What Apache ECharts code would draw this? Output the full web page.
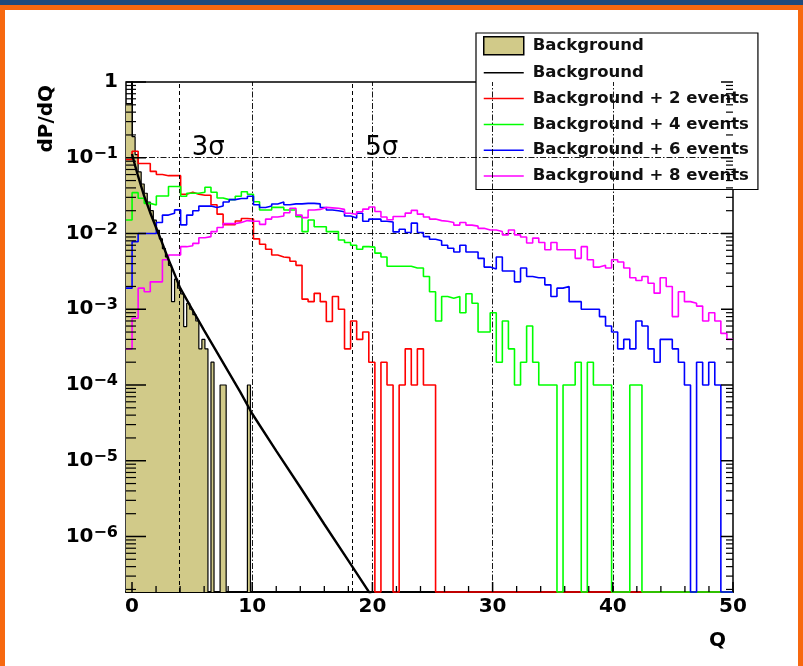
<!DOCTYPE html>
<html>
<head>
<meta charset="utf-8">
<script src="https://cdn.jsdelivr.net/npm/echarts@6/dist/echarts.min.js"></script>
<style>
  html, body { margin: 0; padding: 0; background: #fff; }
  #chart { position: absolute; left: 0; top: 0; width: 803px; height: 666px; }
  #frame { position: absolute; left: 0; top: 0; width: 803px; height: 666px; box-sizing: border-box;
           border-left: 5px solid #f7680f; border-right: 5px solid #f7680f; border-top: 10px solid #f7680f;
           pointer-events: none; }
  #topbar { position: absolute; left: 0; top: 0; width: 803px; height: 5px; background: #1f4a7c; pointer-events: none; }
</style>
</head>
<body>
<div id="chart"></div>
<div id="frame"></div>
<div id="topbar"></div>
<script>
// Q range shared by all histograms; the bin count follows from each array's length
const Q_MIN = -0.5;
const Q_MAX = 50;
const Y_FLOOR = 1.85e-7;
const Y_TOP = 1;

// dP/dQ, background only (filled histogram, 200 bins)
const bgHist = [
  0.52, 0.52, 0.19, 0.11, 0.065, 0.045, 0.034, 0.026, 0.020, 0.015,
  0.011, 0.0085, 0.0063, 0.0049, 0.0038, 0.00126, 0.0025, 0.0019, 0.0016, 0.00059,
  0.0012, 0.0010, 0.00085, 0.0007, 0.0003, 0.0004, 0.0003, 0, 0.0002, 0,
  0, 0.0001, 0.0001, 0, 0, 0, 0, 0, 0, 0,
  0.0001, 0, 0, 0, 0, 0, 0, 0, 0, 0,
  0, 0, 0, 0, 0, 0, 0, 0, 0, 0,
  0, 0, 0, 0, 0, 0, 0, 0, 0, 0,
  0, 0, 0, 0, 0, 0, 0, 0, 0, 0,
  0, 0, 0, 0, 0, 0, 0, 0, 0, 0,
  0, 0, 0, 0, 0, 0, 0, 0, 0, 0,
  0, 0, 0, 0, 0, 0, 0, 0, 0, 0,
  0, 0, 0, 0, 0, 0, 0, 0, 0, 0,
  0, 0, 0, 0, 0, 0, 0, 0, 0, 0,
  0, 0, 0, 0, 0, 0, 0, 0, 0, 0,
  0, 0, 0, 0, 0, 0, 0, 0, 0, 0,
  0, 0, 0, 0, 0, 0, 0, 0, 0, 0,
  0, 0, 0, 0, 0, 0, 0, 0, 0, 0,
  0, 0, 0, 0, 0, 0, 0, 0, 0, 0,
  0, 0, 0, 0, 0, 0, 0, 0, 0, 0,
  0, 0, 0, 0, 0, 0, 0, 0, 0, 0
];

// Background + 2 signal events (100 bins)
const bgPlus2 = [
  0.095, 0.122, 0.084, 0.084, 0.066, 0.060, 0.058, 0.058, 0.058, 0.033,
  0.035, 0.033, 0.032, 0.032, 0.024, 0.018, 0.0131, 0.0131, 0.0146, 0.0158,
  0.0155, 0.0085, 0.0072, 0.0062, 0.0052, 0.0049, 0.0048, 0.0043, 0.0038, 0.00136,
  0.00126, 0.00162, 0.00126, 0.00069, 0.00147, 0.0010, 0.0003, 0.0007, 0.0004, 0.0005,
  0.0002, 0, 0.0002, 0.0001, 0, 0.0001, 0.0003, 0.0001, 0.0003, 0.0001,
  0.0001, 0, 0, 0, 0, 0, 0, 0, 0, 0,
  0, 0, 0, 0, 0, 0, 0, 0, 0, 0,
  0, 0, 0, 0, 0, 0, 0, 0, 0, 0,
  0, 0, 0, 0, 0, 0, 0, 0, 0, 0,
  0, 0, 0, 0, 0, 0, 0, 0, 0, 0
];

// Background + 4 signal events (100 bins)
const bgPlus4 = [
  0.0151, 0.0346, 0.0292, 0.025, 0.0238, 0.0313, 0.0313, 0.0417, 0.0417, 0.031,
  0.034, 0.034, 0.035, 0.0408, 0.035, 0.0294, 0.028, 0.028, 0.031, 0.0356,
  0.033, 0.0263, 0.0204, 0.0204, 0.0221, 0.0221, 0.0204, 0.0204, 0.0167, 0.0106,
  0.0151, 0.0123, 0.0123, 0.0106, 0.0106, 0.0082, 0.0076, 0.0070, 0.0062, 0.0067,
  0.0066, 0.0055, 0.0049, 0.0037, 0.0037, 0.0037, 0.0037, 0.0035, 0.0035, 0.0027,
  0.0017, 0.0007, 0.00147, 0.0014, 0.00147, 0.0009, 0.0016, 0.0012, 0.0005, 0.0005,
  0.0009, 0.0002, 0.0007, 0.0003, 0.0001, 0.0002, 0.0006, 0.0002, 0.0001, 0.0001,
  0.0001, 0, 0.0001, 0.0001, 0.0002, 0, 0.0002, 0.0001, 0.0001, 0.0001,
  0, 0, 0, 0.0001, 0.0001, 0, 0, 0, 0, 0,
  0, 0, 0, 0, 0, 0, 0, 0, 0, 0
];

// Background + 6 signal events (100 bins)
const bgPlus6 = [
  0.0019, 0.0078, 0.0100, 0.0100, 0.0100, 0.014, 0.0175, 0.0185, 0.0205, 0.0130,
  0.0175, 0.020, 0.023, 0.023, 0.022, 0.023, 0.026, 0.028, 0.029, 0.029,
  0.031, 0.024, 0.022, 0.023, 0.0245, 0.026, 0.024, 0.0246, 0.0246, 0.025,
  0.025, 0.0246, 0.022, 0.0204, 0.020, 0.0194, 0.017, 0.016, 0.0185, 0.0145,
  0.0155, 0.0155, 0.0145, 0.0142, 0.0105, 0.0114, 0.0103, 0.0137, 0.0103, 0.0091,
  0.0084, 0.0080, 0.0070, 0.0064, 0.0057, 0.0070, 0.0057, 0.0057, 0.0047, 0.0036,
  0.0034, 0.0049, 0.0032, 0.0032, 0.0023, 0.0035, 0.0027, 0.0026, 0.0026, 0.0021,
  0.00147, 0.0019, 0.0020, 0.00126, 0.00126, 0.0010, 0.0010, 0.0010, 0.0008, 0.0006,
  0.0005, 0.0003, 0.0004, 0.0003, 0.0007, 0.0006, 0.0003, 0.0002, 0.0004, 0.0004,
  0.0003, 0.0002, 0.0001, 0, 0.0002, 0.0001, 0.0002, 0.0001, 0, 0
];

// Background + 8 signal events (100 bins)
const bgPlus8 = [
  0.0003, 0.00076, 0.0019, 0.0017, 0.0023, 0.0023, 0.0045, 0.0052, 0.0052, 0.0067,
  0.0069, 0.0074, 0.0088, 0.0091, 0.0106, 0.012, 0.0135, 0.0135, 0.014, 0.0148,
  0.0145, 0.0145, 0.0132, 0.0155, 0.0165, 0.017, 0.0188, 0.0215, 0.0175, 0.0162,
  0.0204, 0.0208, 0.0221, 0.0218, 0.0215, 0.0208, 0.0185, 0.0178, 0.0194, 0.021,
  0.0224, 0.0195, 0.0165, 0.0152, 0.0168, 0.0168, 0.0186, 0.0202, 0.018, 0.0165,
  0.0155, 0.0148, 0.0145, 0.014, 0.0129, 0.014, 0.0129, 0.0125, 0.0117, 0.0111,
  0.0111, 0.0106, 0.0096, 0.0111, 0.0096, 0.009, 0.0075, 0.0087, 0.0076, 0.0061,
  0.0076, 0.0061, 0.0061, 0.0061, 0.0047, 0.0067, 0.0045, 0.0036, 0.0038, 0.0035,
  0.0045, 0.0042, 0.0035, 0.0026, 0.0024, 0.0027, 0.0022, 0.00163, 0.0026, 0.0020,
  0.0008, 0.0017, 0.00126, 0.0012, 0.0011, 0.0007, 0.0009, 0.0007, 0.00048, 0.0004
];

// Smooth background curve, sampled in Q
const fitQ = [0.0, 0.25, 0.5, 1.0, 1.5, 2.0, 2.5, 3.0, 3.5, 4.0, 5.0, 6.0, 7.0, 8.0, 9.0, 10.0, 12.0, 14.0, 16.0, 18.0, 20.0];
const fitP = [0.1122, 0.0794, 0.0575, 0.0316, 0.0191, 0.0120, 0.00759, 0.00468, 0.00302, 0.00191,
              0.00100, 5.25e-4, 2.82e-4, 1.51e-4, 8.13e-5, 4.17e-5, 1.35e-5, 4.47e-6, 1.45e-6, 4.79e-7, 1.58e-7];

// Significance thresholds in Q
const sigmaQ = [3.89, 18.33];
const sigmaText = ['3σ', '5σ'];
const sigmaLabelP = 0.134;

// Axis ticks and grid
const xLabelValues = [0, 10, 20, 30, 40, 50];
const xMinorValues = [2, 4, 6, 8, 12, 14, 16, 18, 22, 24, 26, 28, 32, 34, 36, 38, 42, 44, 46, 48];
const xGridValues = [10, 20, 30, 40];
const yDecades = [1e-7, 1e-6, 1e-5, 1e-4, 1e-3, 1e-2, 1e-1, 1];
const yMinorMultipliers = [2, 3, 4, 5, 6, 7, 8, 9];
const yGridValues = [1e-1, 1e-2, 1e-3, 1e-4, 1e-5, 1e-6];

const legendText = {
  bgHist: 'Background',
  bgFit: 'Background',
  bgPlus2: 'Background + 2 events',
  bgPlus4: 'Background + 4 events',
  bgPlus6: 'Background + 6 events',
  bgPlus8: 'Background + 8 events'
};

const KHAKI = '#d1ca89';
const FONT = 'DejaVu Sans';

// histogram contents -> step outline points (empty bins drop to the axis floor)
function histPoints(vals) {
  const w = (Q_MAX - Q_MIN) / vals.length;
  const pts = vals.map((v, i) => [Q_MIN + i * w, v > 0 ? v : Y_FLOOR]);
  const last = vals[vals.length - 1];
  pts.push([Q_MAX, last > 0 ? last : Y_FLOOR]);
  return pts;
}

const yMajorTicks = yDecades.filter(v => v >= Y_FLOOR && v <= Y_TOP);
const yMinorTicks = [];
yDecades.forEach(d => yMinorMultipliers.forEach(m => {
  const v = d * m;
  if (v > Y_FLOOR && v < Y_TOP) yMinorTicks.push(v);
}));

function histSeries(name, vals, color, z) {
  return {
    name: name, type: 'line', step: 'end', data: histPoints(vals),
    showSymbol: false, symbol: 'none', clip: false, z: z, silent: true,
    lineStyle: { color: color, width: 1.6 },
    itemStyle: { color: color }
  };
}

function tickSeries(data, render, z) {
  return { type: 'custom', coordinateSystem: 'cartesian2d', silent: true, z: z, clip: false,
           data: data, renderItem: render };
}

const chart = echarts.init(document.getElementById('chart'), null, { renderer: 'canvas' });

const option = {
  animation: false,
  backgroundColor: 'transparent',
  grid: { left: 126, right: 70, top: 82, bottom: 74, show: true, borderColor: '#000', borderWidth: 1.5,
          backgroundColor: 'transparent' },
  legend: {
    orient: 'vertical', left: 476, top: 33,
    backgroundColor: '#fff', borderColor: '#000', borderWidth: 1.2,
    padding: [3, 9, 5, 7],
    itemWidth: 40, itemHeight: 18, itemGap: 8.8,
    selectedMode: false,
    itemStyle: { opacity: 0, borderWidth: 0 },
    lineStyle: { width: 1.5 },
    formatter: n => legendText[n],
    textStyle: { fontFamily: FONT, fontWeight: 'bold', fontSize: 16.5, color: '#111', padding: [0, 0, 0, 4] },
    data: [
      { name: 'bgHist', icon: 'rect', itemStyle: { color: KHAKI, borderColor: '#000', borderWidth: 1.5, opacity: 1 } },
      'bgFit', 'bgPlus2', 'bgPlus4', 'bgPlus6', 'bgPlus8'
    ]
  },
  xAxis: {
    type: 'value', min: Q_MIN, max: Q_MAX,
    axisLine: { show: true, lineStyle: { color: '#000', width: 2 } },
    axisTick: { show: false },
    splitLine: { show: false },
    axisLabel: {
      customValues: xLabelValues, margin: 5,
      fontFamily: FONT, fontWeight: 'bold', fontSize: 20, color: '#000'
    }
  },
  yAxis: {
    type: 'log', logBase: 10, min: Y_FLOOR, max: Y_TOP,
    axisLine: { show: true, lineStyle: { color: '#000', width: 2 } },
    axisTick: { show: false },
    splitLine: { show: false },
    minorTick: { show: false },
    axisLabel: {
      showMinLabel: false, margin: 8,
      formatter: v => {
        const e = Math.round(Math.log10(v));
        return e === 0 ? '{b|1}' : '{b|10}{s|' + (e < 0 ? '\u2212' + (-e) : e) + '}';
      },
      rich: {
        b: { fontFamily: FONT, fontWeight: 'bold', fontSize: 20, color: '#000', lineHeight: 24 },
        s: { fontFamily: FONT, fontWeight: 'bold', fontSize: 16, color: '#000', lineHeight: 16, verticalAlign: 'top' }
      }
    }
  },
  graphic: [
    { type: 'text', left: 37, top: 85, rotation: Math.PI / 2, z: 20,
      style: { text: 'dP/dQ', font: 'bold 20px "DejaVu Sans"', fill: '#000' } },
    { type: 'text', left: 709, top: 631, z: 20,
      style: { text: 'Q', font: 'bold 20px "DejaVu Sans"', fill: '#000' } }
  ],
  series: [
    // dash-dot reference grid
    {
      name: 'grid', type: 'line', data: [], z: 1, silent: true,
      markLine: {
        silent: true, symbol: 'none', animation: false, label: { show: false },
        lineStyle: { color: '#000', width: 1, type: [6, 2, 1.5, 2], opacity: 0.9 },
        data: xGridValues.map(v => ({ xAxis: v })).concat(yGridValues.map(v => ({ yAxis: v })))
      }
    },
    {
      name: 'bgHist', type: 'line', step: 'end', data: histPoints(bgHist),
      showSymbol: false, symbol: 'none', clip: false, z: 2, silent: true,
      lineStyle: { color: '#000', width: 1.2 },
      itemStyle: { color: KHAKI },
      areaStyle: { color: KHAKI, opacity: 1, origin: 'start' }
    },
    // significance thresholds
    {
      name: 'sigma', type: 'line', data: [], z: 3, silent: true,
      markLine: {
        silent: true, symbol: 'none', animation: false, label: { show: false },
        lineStyle: { color: '#000', width: 1, type: [4, 3] },
        data: sigmaQ.map(v => ({ xAxis: v }))
      },
      markPoint: {
        silent: true, symbol: 'circle', symbolSize: 0, animation: false,
        label: { show: true, position: 'right', distance: 13, fontFamily: FONT, fontSize: 26, color: '#000',
                 formatter: p => p.name },
        data: sigmaQ.map((v, i) => ({ name: sigmaText[i], coord: [v, sigmaLabelP] }))
      }
    },
    histSeries('bgPlus2', bgPlus2, '#ff0000', 4),
    histSeries('bgPlus4', bgPlus4, '#00ff00', 5),
    histSeries('bgPlus6', bgPlus6, '#0000ff', 6),
    histSeries('bgPlus8', bgPlus8, '#ff00ff', 7),
    {
      name: 'bgFit', type: 'line', data: fitQ.map((q, i) => [q, fitP[i]]),
      showSymbol: false, symbol: 'none', clip: true, z: 8, silent: true,
      lineStyle: { color: '#000', width: 2.4 }, itemStyle: { color: '#000' }
    },
    // axis ticks drawn inside the frame
    tickSeries(xLabelValues.map(v => [v, Y_FLOOR]), (p, api) => {
      const c = api.coord([api.value(0), Y_FLOOR]);
      return { type: 'line', shape: { x1: c[0], y1: c[1], x2: c[0], y2: c[1] - 10 }, style: { stroke: '#000', lineWidth: 1.5 } };
    }, 10),
    tickSeries(xMinorValues.map(v => [v, Y_FLOOR]), (p, api) => {
      const c = api.coord([api.value(0), Y_FLOOR]);
      return { type: 'line', shape: { x1: c[0], y1: c[1], x2: c[0], y2: c[1] - 6 }, style: { stroke: '#000', lineWidth: 1.3 } };
    }, 10),
    tickSeries(yMajorTicks.map(v => [Q_MIN, v]), (p, api) => {
      const l = api.coord([Q_MIN, api.value(1)]);
      const r = api.coord([Q_MAX, api.value(1)]);
      return { type: 'group', children: [
        { type: 'line', shape: { x1: l[0], y1: l[1], x2: l[0] + 20, y2: l[1] }, style: { stroke: '#000', lineWidth: 1.5 } },
        { type: 'line', shape: { x1: r[0], y1: r[1], x2: r[0] - 12, y2: r[1] }, style: { stroke: '#000', lineWidth: 1.5 } }
      ] };
    }, 10),
    tickSeries(yMinorTicks.map(v => [Q_MIN, v]), (p, api) => {
      const l = api.coord([Q_MIN, api.value(1)]);
      const r = api.coord([Q_MAX, api.value(1)]);
      return { type: 'group', children: [
        { type: 'line', shape: { x1: l[0], y1: l[1], x2: l[0] + 10, y2: l[1] }, style: { stroke: '#000', lineWidth: 1.2 } },
        { type: 'line', shape: { x1: r[0], y1: r[1], x2: r[0] - 7, y2: r[1] }, style: { stroke: '#000', lineWidth: 1.2 } }
      ] };
    }, 10)
  ]
};

chart.setOption(option);
</script>
</body>
</html>
